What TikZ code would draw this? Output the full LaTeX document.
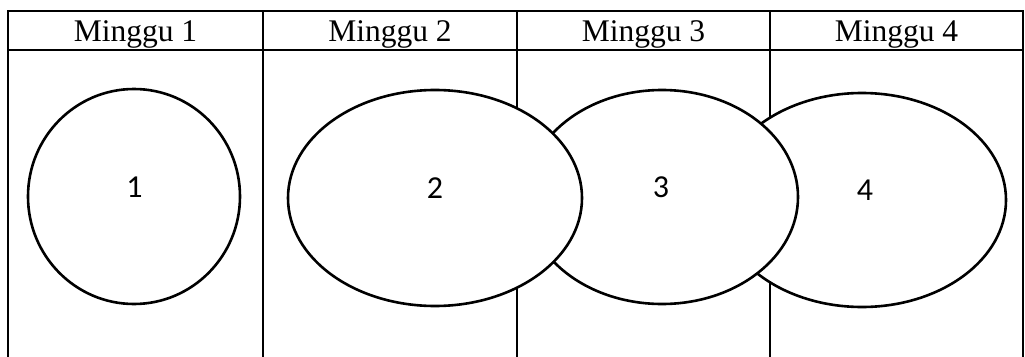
\documentclass[tikz,border=0pt]{standalone}
\usepackage{fontspec}
\setmainfont{Liberation Serif}
\newfontfamily\digitfont{Carlito}
\usetikzlibrary{shapes.geometric}

\begin{document}
\begin{tikzpicture}[x=1pt, y=-1pt]
		\tikzstyle{grid line} = [draw, line width = 1.6pt]
		\tikzstyle{head line} = [draw, line width = 2pt]
		\tikzstyle{week head} = [font = \fontsize{31.5}{31.5}\selectfont, anchor = base, inner sep = 0pt]
		\tikzstyle{week blob} = [draw, fill = white, ellipse, line width = 2.6pt, inner sep = 0pt]
		\tikzstyle{week num} = [font = \digitfont\fontsize{32}{32}\selectfont, inner sep = 0pt]
			\useasboundingbox (0,0) rectangle (1025,356);
			% table lines
			\foreach \xcol in {8, 263, 517, 770, 1023}
				\path[grid line](\xcol,11)--(\xcol,360);
			\path[head line](7,11)--(1024,11);
			\path[head line](7,50)--(1024,50);
			% week headers
			\foreach \xmid/\wk in {135.5/1, 390/2, 643.5/3, 896.5/4}
				\node[week head] (h\wk) at (\xmid,41) {Minggu \wk};
			% blobs, back to front
			\node[week blob, minimum width = 288pt, minimum height = 214pt] (e4) at (862,200) {};
			\node[week blob, minimum width = 272pt, minimum height = 214pt] (e3) at (662,197) {};
			\node[week blob, minimum width = 294pt, minimum height = 216pt] (e2) at (435,198) {};
			\node[week blob, minimum width = 212pt, minimum height = 215pt] (e1) at (134,196.5) {};
			\node[week num] (n1) at (134.5,187) {1};
			\node[week num] (n2) at (435,188) {2};
			\node[week num] (n3) at (661,187) {3};
			\node[week num] (n4) at (865,190) {4};
		\end{tikzpicture}
\end{document}
